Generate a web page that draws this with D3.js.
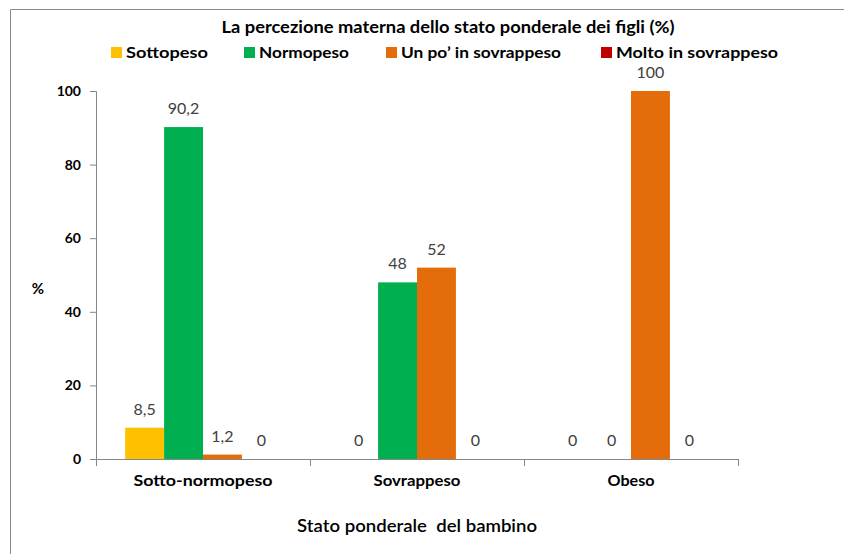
<!DOCTYPE html>
<html>
<head>
<meta charset="utf-8">
<script src="https://cdn.jsdelivr.net/npm/d3@7/dist/d3.min.js"></script>
<style>
  html, body { margin: 0; padding: 0; background: #fff; }
  svg { display: block; }
  text { font-family: Lato, "Open Sans", sans-serif; white-space: pre; }
</style>
</head>
<body>
<svg id="chart" width="844" height="554"></svg>
<script>
// Child weight status groups (x axis)
const categories = ["Sotto-normopeso", "Sovrappeso", "Obeso"];
// Mother's perception of the child's weight (legend series)
const seriesNames = ["Sottopeso", "Normopeso", "Un po\u2019 in sovrappeso", "Molto in sovrappeso"];
const seriesColors = ["#FFC000", "#00B050", "#E46C0A", "#C00000"];
// Percentages per series, one value per category
const sottopeso = [8.5, 0, 0];
const normopeso = [90.2, 48, 0];
const unPoSovrappeso = [1.2, 52, 100];
const moltoSovrappeso = [0, 0, 0];
const seriesValues = [sottopeso, normopeso, unPoSovrappeso, moltoSovrappeso];
const yTicks = [0, 20, 40, 60, 80, 100];

const title = "La percezione materna dello stato ponderale dei figli (%)";
const yTitle = "%";
const xTitle = "Stato ponderale  del bambino";

const svg = d3.select("#chart");

// outer frame (top and left edges visible)
svg.append("path")
  .attr("d", "M10.5,554 V9.5 H844")
  .attr("fill", "none")
  .attr("stroke", "#8a8a8a")
  .attr("stroke-width", 1);

const plot = { left: 96, right: 738, top: 91, bottom: 459 };

const x0 = d3.scaleBand()
  .domain(categories)
  .range([plot.left, plot.right])
  .paddingInner(0)
  .paddingOuter(0);

// bars fill 4/(4+1.5) of each category: gap width 150%
const groupWidth = x0.bandwidth() * 4 / 5.5;
const x1 = d3.scaleBand()
  .domain(d3.range(seriesNames.length))
  .range([(x0.bandwidth() - groupWidth) / 2, (x0.bandwidth() + groupWidth) / 2]);

const y = d3.scaleLinear().domain([0, 100]).range([plot.bottom, plot.top]);

const axisColor = "#868686";

// y axis
const yAxis = svg.append("g")
  .attr("transform", `translate(${plot.left},0)`)
  .call(d3.axisLeft(y).tickValues(yTicks).tickSize(6).tickPadding(9).tickFormat(d3.format("d")));
yAxis.select(".domain").attr("stroke", axisColor);
yAxis.selectAll(".tick line").attr("stroke", axisColor);
yAxis.selectAll(".tick text")
  .attr("font-size", 14)
  .attr("font-weight", 700)
  .attr("fill", "#000")
  .style("font-family", "Lato, sans-serif");

// x axis
const catWidths = [139, 87, 47];
const xAxis = svg.append("g")
  .attr("transform", `translate(0,${plot.bottom})`)
  .call(d3.axisBottom(x0).tickSize(0).tickPadding(16));
xAxis.select(".domain").attr("stroke", axisColor).attr("d", `M${plot.left - 6},0.5H${plot.right}`);
xAxis.selectAll(".tick text")
  .attr("font-size", 16)
  .attr("font-weight", 700)
  .attr("fill", "#000")
  .attr("textLength", (d, i) => catWidths[i])
  .attr("lengthAdjust", "spacingAndGlyphs")
  .style("font-family", "Lato, sans-serif");
// category separators
const bounds = categories.map(c => x0(c)).concat([plot.right]);
xAxis.selectAll("line.sep")
  .data(bounds)
  .join("line")
  .attr("class", "sep")
  .attr("x1", d => Math.round(d) + 0.5)
  .attr("x2", d => Math.round(d) + 0.5)
  .attr("y1", 0)
  .attr("y2", 7)
  .attr("stroke", axisColor);

// bars
const groups = svg.append("g").selectAll("g")
  .data(categories)
  .join("g")
  .attr("transform", d => `translate(${x0(d)},0)`);

groups.selectAll("rect")
  .data((c, ci) => seriesValues.map((vals, si) => ({ si, v: vals[ci] })))
  .join("rect")
  .attr("x", d => x1(d.si))
  .attr("width", x1.bandwidth())
  .attr("y", d => y(d.v))
  .attr("height", d => y(0) - y(d.v))
  .attr("fill", d => seriesColors[d.si]);

// value labels
const fmt = v => String(v).replace(".", ",");
groups.selectAll("text.val")
  .data((c, ci) => seriesValues.map((vals, si) => ({ si, v: vals[ci] })))
  .join("text")
  .attr("class", "val")
  .attr("x", d => x1(d.si) + x1.bandwidth() / 2)
  .attr("y", d => y(d.v) - 13)
  .attr("text-anchor", "middle")
  .attr("font-size", 16)
  .attr("fill", "#404040")
  .text(d => fmt(d.v));

// title
svg.append("text")
  .attr("x", 448)
  .attr("y", 33)
  .attr("text-anchor", "middle")
  .attr("font-size", 17)
  .attr("font-weight", 700)
  .attr("fill", "#000")
  .attr("textLength", 453)
  .attr("lengthAdjust", "spacingAndGlyphs")
  .text(title);

// legend
const legendX = [111, 244, 386, 601];
const legendW = [82, 90, 160, 162];
const legend = svg.append("g").selectAll("g")
  .data(seriesNames)
  .join("g")
  .attr("transform", (d, i) => `translate(${legendX[i]},0)`);
legend.append("rect")
  .attr("x", 0).attr("y", 47).attr("width", 11).attr("height", 11)
  .attr("fill", (d, i) => seriesColors[i]);
legend.append("text")
  .attr("x", 15).attr("y", 58)
  .attr("font-size", 16)
  .attr("font-weight", 700)
  .attr("fill", "#000")
  .attr("textLength", (d, i) => legendW[i])
  .attr("lengthAdjust", "spacingAndGlyphs")
  .text(d => d);

// axis titles
svg.append("text")
  .attr("x", 38).attr("y", 294)
  .attr("text-anchor", "middle")
  .attr("font-size", 15)
  .attr("font-weight", 700)
  .text(yTitle);
svg.append("text")
  .attr("x", 417).attr("y", 532)
  .attr("text-anchor", "middle")
  .attr("font-size", 17)
  .attr("font-weight", 600)
  .attr("textLength", 240)
  .attr("lengthAdjust", "spacingAndGlyphs")
  .text(xTitle);
</script>
</body>
</html>
